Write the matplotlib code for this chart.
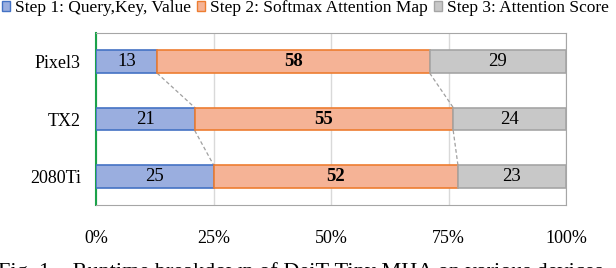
import matplotlib
matplotlib.use("Agg")
import matplotlib.pyplot as plt
import numpy as np
from matplotlib.patches import Patch

devices = ["Pixel3", "TX2", "2080Ti"]
step1 = [13, 21, 25]
step2 = [58, 55, 52]
step3 = [29, 24, 23]
series_names = ["Step 1: Query,Key, Value", "Step 2: Softmax Attention Map", "Step 3: Attention Score"]
xticks = [0, 25, 50, 75, 100]
xticklabels = ["0%", "25%", "50%", "75%", "100%"]

fills = ["#9AAEDF", "#F5B396", "#C8C8C8"]
edges = ["#4472C4", "#ED7D31", "#A5A5A5"]

plt.rcParams['font.family'] = ['Liberation Serif', 'DejaVu Serif']

fig = plt.figure(figsize=(6.16, 2.68), dpi=100)
ax = fig.add_axes([96/616, 1-205/268, 470/616, 172/268])

y = np.arange(len(devices))
h = 0.4
left = np.zeros(len(devices))
data = [step1, step2, step3]
for i, vals in enumerate(data):
    vals = np.array(vals)
    ax.barh(y, vals, left=left, height=h, color=fills[i], edgecolor=edges[i], linewidth=1.2, zorder=3)
    for j, v in enumerate(vals):
        ax.text(left[j] + v/2, y[j], str(v), ha='center', va='center', fontsize=13.5,
                fontweight='bold' if i == 1 else 'normal', color='black', zorder=4)
    left = left + vals

# connector dashed lines
cum1 = np.array(step1)
cum2 = np.array(step1) + np.array(step2)
for cum in (cum1, cum2):
    for j in range(len(devices) - 1):
        ax.plot([cum[j], cum[j+1]], [y[j] + h/2, y[j+1] - h/2], ls=(0, (3, 2)), color='#A0A0A0', lw=0.9, zorder=2)

ax.set_xlim(0, 100)
ax.set_ylim(2.5, -0.5)
ax.set_xticks(xticks)
ax.set_xticklabels(xticklabels, fontsize=13)
ax.set_yticks(y)
ax.set_yticklabels(devices, fontsize=13)
ax.tick_params(length=0, pad=11)
ax.tick_params(axis='x', pad=18)
ax.grid(axis='x', color='#D9D9D9', lw=1, zorder=0)
for s in ['top', 'right', 'bottom']:
    ax.spines[s].set_color('#A6A6A6')
ax.spines['left'].set_color('#1BA24A')
ax.spines['left'].set_linewidth(1.5)

handles = [Patch(facecolor=fills[i], edgecolor=edges[i], label=series_names[i]) for i in range(3)]
fig.legend(handles=handles, loc='upper left', bbox_to_anchor=(2/616, 1.0), ncol=3, frameon=False,
           fontsize=12.5, handlelength=0.46, handleheight=0.46, handletextpad=0.3, columnspacing=0.35,
           borderpad=0, borderaxespad=0)

fig.text(-0.003, 1 - 262/268, "Fig. 1.   Runtime breakdown of DeiT-Tiny MHA on various devices",
         ha='left', va='top', fontsize=16)

fig.savefig("out.png", dpi=100)
